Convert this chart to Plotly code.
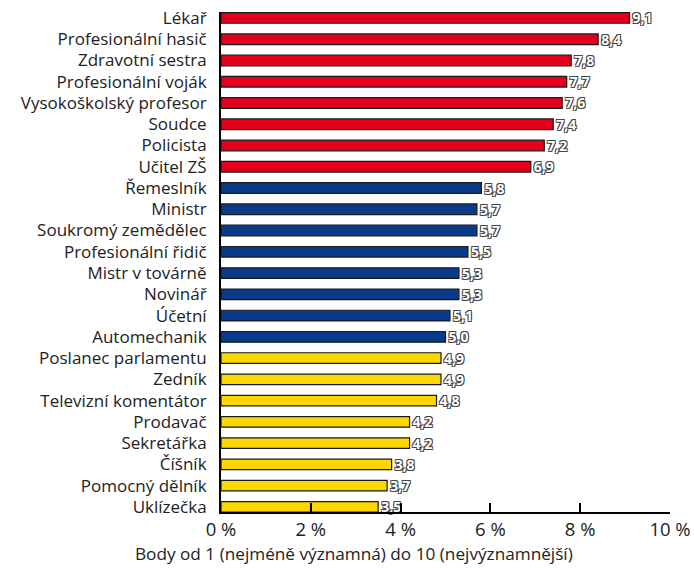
import plotly.graph_objects as go

categories = ["Lékař", "Profesionální hasič", "Zdravotní sestra", "Profesionální voják",
              "Vysokoškolský profesor", "Soudce", "Policista", "Učitel ZŠ",
              "Řemeslník", "Ministr", "Soukromý zemědělec", "Profesionální řidič",
              "Mistr v továrně", "Novinář", "Účetní", "Automechanik",
              "Poslanec parlamentu", "Zedník", "Televizní komentátor", "Prodavač",
              "Sekretářka", "Číšník", "Pomocný dělník", "Uklízečka"]
values = [9.1, 8.4, 7.8, 7.7, 7.6, 7.4, 7.2, 6.9,
          5.8, 5.7, 5.7, 5.5, 5.3, 5.3, 5.1, 5.0,
          4.9, 4.9, 4.8, 4.2, 4.2, 3.8, 3.7, 3.5]
groups = ["high"] * 8 + ["mid"] * 8 + ["low"] * 8
group_colors = {"high": "#E4001C", "mid": "#0A3A8A", "low": "#FFD700"}
tick_vals = [0, 2, 4, 6, 8, 10]
tick_text = ["0 %", "2 %", "4 %", "6 %", "8 %", "10 %"]
x_title = "Body od 1 (nejméně významná) do 10 (nejvýznamnější)"

labels = [f"{v:.1f}".replace(".", ",") for v in values]

fig = go.Figure(go.Bar(
    x=values, y=categories, orientation="h",
    marker=dict(color=[group_colors[g] for g in groups],
                line=dict(color="#1a1a1a", width=1.2)),
    text=labels, textposition="outside", cliponaxis=False, constraintext="none",
    textfont=dict(family="Open Sans, sans-serif", size=14, color="white", weight="bold",
                  shadow="1px 1px 0 #444, -1px -1px 0 #444, 1px -1px 0 #444, -1px 1px 0 #444"),
    width=0.5,
    hoverinfo="skip",
))

fig.update_layout(
    width=694, height=571,
    margin=dict(l=221, r=24, t=12, b=59, autoexpand=False),
    plot_bgcolor="white", paper_bgcolor="white",
    showlegend=False,
    font=dict(family="Open Sans, sans-serif", color="#222"),
    annotations=[dict(text=x_title, xref="paper", yref="paper", x=0.297, y=-0.082,
                      xanchor="center", yanchor="middle", showarrow=False,
                      font=dict(size=17.2, color="#222"))],
)
fig.update_xaxes(
    range=[0, 10], tickvals=tick_vals, ticktext=tick_text,
    showgrid=False, zeroline=False, automargin=False,
    showline=True, linecolor="black", linewidth=2,
    ticks="inside", ticklen=9, tickwidth=2, tickcolor="black",
    tickfont=dict(size=18.5, color="#222"),
    layer="above traces",
)
fig.update_yaxes(
    categoryorder="array", categoryarray=categories,
    range=[23.24, -0.28], autorange=False, automargin=False,
    showgrid=False, zeroline=False,
    showline=True, linecolor="black", linewidth=2,
    ticks="", ticklabelstandoff=9,
    tickfont=dict(size=17, color="#222"),
)

fig.write_html("out.html", config={"displayModeBar": False},
               post_script="document.body.style.margin='0';document.body.style.overflow='hidden';")
